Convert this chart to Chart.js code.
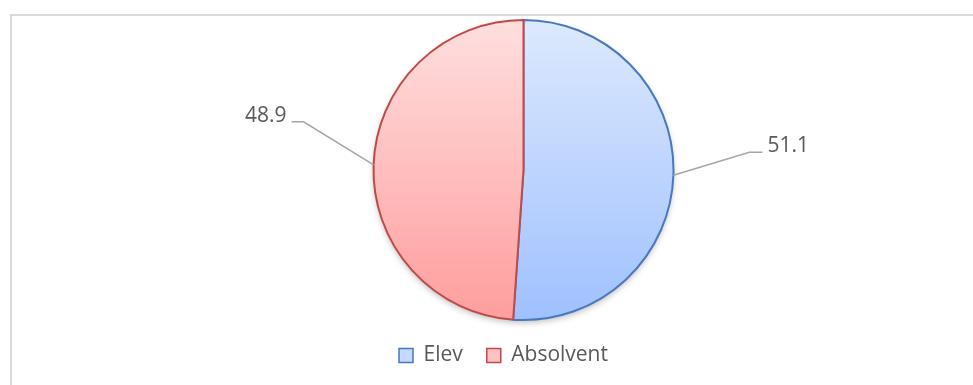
<!DOCTYPE html>
<html>
<head>
<meta charset="utf-8">
<script src="https://cdn.jsdelivr.net/npm/chart.js@4"></script>
<style>
  html, body { margin: 0; padding: 0; background: #fff; }
  #wrap { width: 973px; height: 385px; }
</style>
</head>
<body>
<div id="wrap"><canvas id="myChart" width="973" height="385"></canvas></div>
<script>
const categories = ['Elev', 'Absolvent'];
const shares = [51.1, 48.9];

// gradient stops (top, bottom) and outline for each slice
const topColors = ['#dde9fd', '#ffdfdf'];
const bottomColors = ['#9fc0ff', '#ff9d9d'];
const edgeColors = ['#4a78c0', '#be4b48'];
const legendFills = ['#c6daff', '#ffc2c2'];

function sliceGradient(context) {
  const chart = context.chart;
  const area = chart.chartArea;
  if (!area) return topColors[context.dataIndex];
  const g = chart.ctx.createLinearGradient(0, area.top, 0, area.bottom);
  g.addColorStop(0, topColors[context.dataIndex]);
  g.addColorStop(1, bottomColors[context.dataIndex]);
  return g;
}

// light frame around the plot, running off the right and bottom edges
const frame = {
  id: 'frame',
  beforeDraw(chart) {
    const ctx = chart.ctx;
    ctx.save();
    ctx.strokeStyle = '#d9d9d9';
    ctx.lineWidth = 2;
    ctx.strokeRect(11, 15, 1000, 1000);
    ctx.restore();
  }
};

// soft shadow under the pie
const shadow = {
  id: 'shadow',
  beforeDatasetsDraw(chart) {
    const arc = chart.getDatasetMeta(0).data[0];
    if (!arc) return;
    const ctx = chart.ctx;
    ctx.save();
    ctx.shadowColor = 'rgba(0,0,0,0.25)';
    ctx.shadowBlur = 6;
    ctx.shadowOffsetY = 3;
    ctx.fillStyle = '#fff';
    ctx.beginPath();
    ctx.arc(arc.x, arc.y, arc.outerRadius, 0, Math.PI * 2);
    ctx.fill();
    ctx.restore();
  }
};

// value labels with elbow leader lines
const leaderLabels = {
  id: 'leaderLabels',
  afterDatasetsDraw(chart) {
    const ctx = chart.ctx;
    const meta = chart.getDatasetMeta(0);
    const elbows = [{ dx: 76, dy: -23, run: 13 }, { dx: -70, dy: -43, run: -12 }];
    ctx.save();
    meta.data.forEach((arc, i) => {
      const mid = (arc.startAngle + arc.endAngle) / 2;
      const x0 = arc.x + Math.cos(mid) * arc.outerRadius;
      const y0 = arc.y + Math.sin(mid) * arc.outerRadius;
      const e = elbows[i];
      const x1 = x0 + e.dx, y1 = y0 + e.dy;
      const x2 = x1 + e.run;
      ctx.strokeStyle = '#a6a6a6';
      ctx.lineWidth = 1.5;
      ctx.beginPath();
      ctx.moveTo(x0, y0);
      ctx.lineTo(x1, y1);
      ctx.lineTo(x2, y1);
      ctx.stroke();
      ctx.fillStyle = '#595959';
      ctx.font = '21px "Open Sans", sans-serif';
      ctx.textBaseline = 'middle';
      ctx.textAlign = e.run > 0 ? 'left' : 'right';
      ctx.fillText(shares[i].toFixed(1), x2 + (e.run > 0 ? 5 : -5), y1 - 6);
    });
    ctx.restore();
  }
};

// nudge the legend left of the canvas centre
const legendShift = {
  id: 'legendShift',
  afterLayout(chart) {
    chart.legend.left -= 20;
    chart.legend.right -= 20;
  }
};

new Chart(document.getElementById('myChart').getContext('2d'), {
  type: 'pie',
  data: {
    labels: categories,
    datasets: [{
      data: shares,
      backgroundColor: sliceGradient,
      borderColor: edgeColors,
      borderWidth: 2
    }]
  },
  options: {
    responsive: false,
    animation: false,
    layout: { padding: { top: 19, bottom: 9, left: 74, right: 0 } },
    plugins: {
      tooltip: { enabled: false },
      legend: {
        position: 'bottom',
        labels: {
          color: '#595959',
          font: { family: '"Open Sans", sans-serif', size: 21 },
          boxWidth: 14,
          boxHeight: 14,
          padding: 24,
          generateLabels(chart) {
            return categories.map((name, i) => ({
              text: name,
              fillStyle: legendFills[i],
              strokeStyle: edgeColors[i],
              lineWidth: 1.5,
              fontColor: '#595959',
              index: i
            }));
          }
        }
      }
    }
  },
  plugins: [frame, shadow, leaderLabels, legendShift]
});
</script>
</body>
</html>
